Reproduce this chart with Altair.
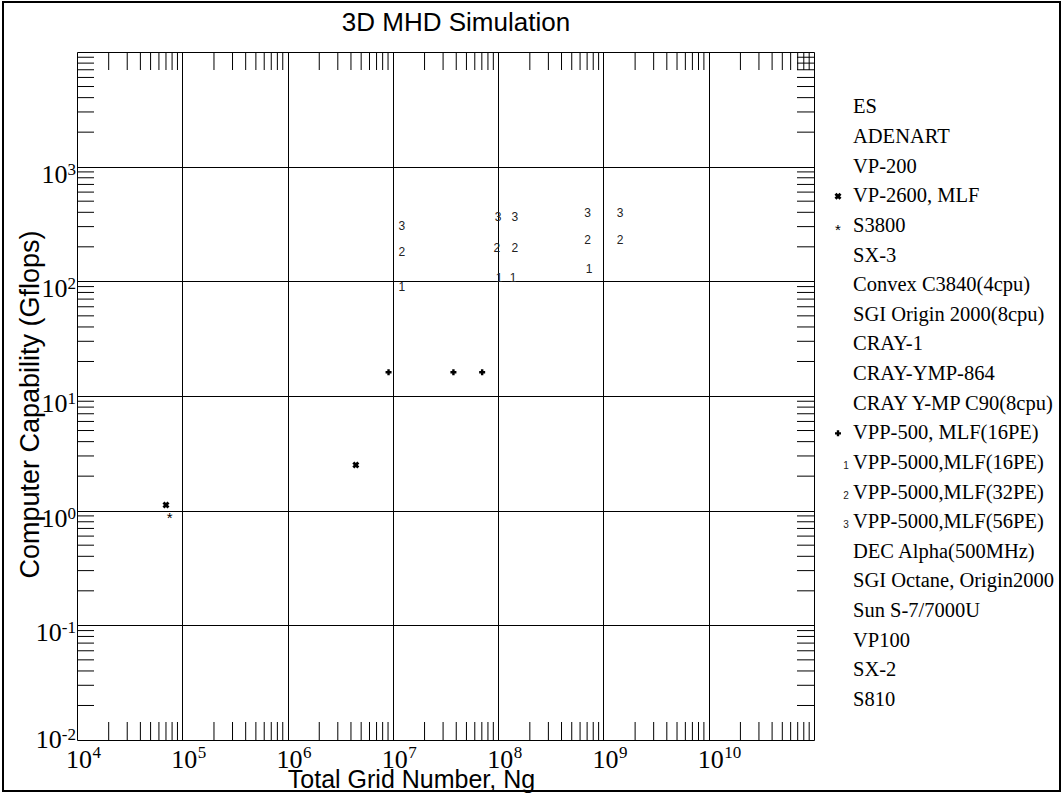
import altair as alt
import pandas as pd

# ---------------- data ----------------
vp2600_ng = [7.0e4, 4.45e6]
vp2600_gf = [1.12, 2.5]

s3800_ng = [7.6e4]
s3800_gf = [0.92]

vpp500_ng = [9.1e6, 3.76e7, 7.05e7]
vpp500_gf = [16.1, 16.1, 16.1]

vpp5000_16_ng = [1.22e7, 1.02e8, 1.39e8, 7.3e8]
vpp5000_16_gf = [88.7, 108, 108, 128]

vpp5000_32_ng = [1.22e7, 9.7e7, 1.44e8, 7.07e8, 1.44e9]
vpp5000_32_gf = [179, 195, 195, 229, 229]

vpp5000_56_ng = [1.22e7, 1.0e8, 1.44e8, 7.07e8, 1.44e9]
vpp5000_56_gf = [305, 361, 361, 393, 393]

legend_labels = [
    "ES", "ADENART", "VP-200", "VP-2600, MLF", "S3800", "SX-3",
    "Convex C3840(4cpu)", "SGI Origin 2000(8cpu)", "CRAY-1", "CRAY-YMP-864",
    "CRAY Y-MP C90(8cpu)", "VPP-500, MLF(16PE)", "VPP-5000,MLF(16PE)",
    "VPP-5000,MLF(32PE)", "VPP-5000,MLF(56PE)", "DEC Alpha(500MHz)",
    "SGI Octane, Origin2000", "Sun S-7/7000U", "VP100", "SX-2", "S810",
]
legend_symbols = ["", "", "", "x", "*", "", "", "", "", "", "",
                  "+", "1", "2", "3", "", "", "", "", "", ""]

x_major = [1e4, 1e5, 1e6, 1e7, 1e8, 1e9, 1e10, 1e11]
x_label_vals = [1e4, 1e5, 1e6, 1e7, 1e8, 1e9, 1e10]
x_label_exps = ["4", "5", "6", "7", "8", "9", "10"]
y_major = [1e-2, 1e-1, 1e0, 1e1, 1e2, 1e3, 1e4]
y_label_vals = [1e-2, 1e-1, 1e0, 1e1, 1e2, 1e3]
y_label_exps = ["-2", "-1", "0", "1", "2", "3"]

title_text = "3D MHD Simulation"

# ---------------- layout ----------------
W, H = 737, 688
PAD_L, PAD_T = 77, 52
SERIF = "Liberation Serif"
SANS = "Liberation Sans"

# ---------------- tables ----------------
pts = pd.concat([
    pd.DataFrame({"ng": vp2600_ng, "gf": vp2600_gf, "s": "x", "lab": ""}),
    pd.DataFrame({"ng": s3800_ng, "gf": s3800_gf, "s": "*", "lab": "*"}),
    pd.DataFrame({"ng": vpp500_ng, "gf": vpp500_gf, "s": "+", "lab": ""}),
    pd.DataFrame({"ng": vpp5000_16_ng, "gf": vpp5000_16_gf, "s": "n", "lab": "1"}),
    pd.DataFrame({"ng": vpp5000_32_ng, "gf": vpp5000_32_gf, "s": "n", "lab": "2"}),
    pd.DataFrame({"ng": vpp5000_56_ng, "gf": vpp5000_56_gf, "s": "n", "lab": "3"}),
], ignore_index=True)

minor_x = pd.DataFrame({"ng": [m * 10 ** k for k in range(4, 11) for m in range(2, 10)]})
minor_y = pd.DataFrame({"gf": [m * 10.0 ** k for k in range(-2, 4) for m in range(2, 10)]})

xlab = pd.DataFrame({"ng": x_label_vals, "base": "10", "exp": x_label_exps})
ylab = pd.DataFrame({"gf": y_label_vals, "base": "10", "exp": y_label_exps})

leg = pd.DataFrame({"idx": list(range(len(legend_labels))),
                    "label": legend_labels, "sym": legend_symbols})

xs = alt.Scale(type="log", domain=[1e4, 1e11], nice=False)
ys = alt.Scale(type="log", domain=[1e-2, 1e4], nice=False)

xaxis = alt.Axis(
    values=x_major, grid=True, gridColor="black", gridWidth=1, gridOpacity=1,
    ticks=False, domain=False, labels=False,
    title="Total Grid Number, Ng", titleFont=SANS, titleFontSize=25,
    titleFontWeight="normal", titleColor="black", titleX=334, titleY=47,
    titleBaseline="alphabetic", titleAlign="center",
)
yaxis = alt.Axis(
    values=y_major, grid=True, gridColor="black", gridWidth=1, gridOpacity=1,
    ticks=False, domain=False, labels=False,
    title="Computer Capability (Gflops)", titleFont=SANS, titleFontSize=27,
    titleFontWeight="normal", titleColor="black", titleX=-47, titleY=352,
    titleAngle=270, titleBaseline="middle", titleAlign="center",
)

X = alt.X("ng:Q", scale=xs, axis=xaxis)
Y = alt.Y("gf:Q", scale=ys, axis=yaxis)

base = alt.Chart(pts)

xmarks = base.mark_point(shape="cross", angle=45, filled=True, size=50, color="black",
                         opacity=1).encode(x=X, y=Y).transform_filter("datum.s == 'x'")
plus = base.mark_point(shape="cross", filled=True, size=36, color="black",
                       opacity=1).encode(x=X, y=Y).transform_filter("datum.s == '+'")
star = base.mark_text(font=SANS, fontSize=15, baseline="alphabetic", dy=8.6,
                      color="black").encode(x=X, y=Y, text="lab:N").transform_filter("datum.s == '*'")
nums = base.mark_text(font=SANS, fontSize=12, baseline="middle",
                      color="#222").encode(x=X, y=Y, text="lab:N").transform_filter("datum.s == 'n'")

tick_len = 18
xt_bot = alt.Chart(minor_x).mark_rule(color="black", strokeWidth=1).encode(
    x=X, y=alt.value(H), y2=alt.value(H - tick_len))
xt_top = alt.Chart(minor_x).mark_rule(color="black", strokeWidth=1).encode(
    x=X, y=alt.value(0), y2=alt.value(tick_len))
yt_left = alt.Chart(minor_y).mark_rule(color="black", strokeWidth=1).encode(
    y=Y, x=alt.value(0), x2=alt.value(17))
yt_right = alt.Chart(minor_y).mark_rule(color="black", strokeWidth=1).encode(
    y=Y, x=alt.value(W), x2=alt.value(W - 17))

# ---- tick labels drawn as "10" + raised exponent ----
BASE_FS, EXP_FS = 26, 17
xl_base = alt.Chart(xlab).mark_text(font=SERIF, fontSize=BASE_FS, align="right", baseline="alphabetic",
                                    dx=15, color="black").encode(x=X, y=alt.value(H + 28), text="base:N")
xl_exp = alt.Chart(xlab).mark_text(font=SERIF, fontSize=EXP_FS, align="left", baseline="alphabetic",
                                   dx=15.5, color="black").encode(x=X, y=alt.value(H + 18), text="exp:N")


def ylayers(filt, base_x, base_dy, exp_dy):
    b = alt.Chart(ylab).mark_text(font=SERIF, fontSize=BASE_FS, align="right", baseline="alphabetic",
                                  dy=base_dy, color="black").encode(
        y=Y, x=alt.value(base_x), text="base:N").transform_filter(filt)
    e = alt.Chart(ylab).mark_text(font=SERIF, fontSize=EXP_FS, align="right", baseline="alphabetic",
                                  dy=exp_dy, color="black").encode(
        y=Y, x=alt.value(-1), text="exp:N").transform_filter(filt)
    return [b, e]


ylabel_layers = (ylayers("length(datum.exp) == 1", -9.5, 16, 8)
                 + ylayers("datum.exp == '-1'", -15.2, 16, 8)
                 + ylayers("datum.exp == '-2'", -15.2, 8, 0))

# ---- title as text ----
title = alt.Chart(pd.DataFrame({"t": [title_text]})).mark_text(
    font=SANS, fontSize=26, align="center", baseline="alphabetic", color="black").encode(
    x=alt.value(456 - PAD_L), y=alt.value(31 - PAD_T), text="t:N")

# ---- legend (drawn at the right of the plot) ----
LEG_Y0 = 107.4 - PAD_T
LEG_DY = 29.63
legbase = alt.Chart(leg).transform_calculate(py=f"{LEG_Y0} + {LEG_DY} * datum.idx")
PY = alt.Y("py:Q", scale=None, axis=None)

leg_text = legbase.mark_text(align="left", baseline="middle", font=SERIF,
                             fontSize=20.5, color="black").encode(
    x=alt.value(853 - PAD_L), y=PY, text="label:N")
leg_x = legbase.mark_point(shape="cross", angle=45, filled=True, size=50, color="black",
                           opacity=1).encode(x=alt.value(838 - PAD_L), y=PY).transform_filter("datum.sym == 'x'")
leg_plus = legbase.mark_point(shape="cross", filled=True, size=36, color="black",
                              opacity=1).encode(x=alt.value(838 - PAD_L), y=PY).transform_filter("datum.sym == '+'")
leg_star = legbase.mark_text(font=SANS, fontSize=15, baseline="alphabetic", dy=8.6,
                             color="black").encode(x=alt.value(838 - PAD_L), y=PY, text="sym:N").transform_filter("datum.sym == '*'")
leg_num = legbase.mark_text(font=SANS, fontSize=10, baseline="middle", dy=3,
                            color="#222").encode(x=alt.value(846 - PAD_L), y=PY, text="sym:N").transform_filter(
    "datum.sym == '1' || datum.sym == '2' || datum.sym == '3'")

frame = alt.Chart(pd.DataFrame({"a": [0]})).mark_rect(fill="transparent", stroke="black", strokeWidth=2).encode(
    x=alt.value(3 - PAD_L), x2=alt.value(1060 - PAD_L), y=alt.value(2 - PAD_T), y2=alt.value(791 - PAD_T))

chart = alt.layer(
    xt_bot, xt_top, yt_left, yt_right, xmarks, plus, star, nums,
    xl_base, xl_exp, *ylabel_layers, title,
    leg_text, leg_x, leg_plus, leg_star, leg_num, frame,
).properties(
    width=W, height=H,
    autosize=alt.AutoSizeParams(type="none"),
    padding={"left": PAD_L, "top": PAD_T, "right": 1063 - PAD_L - W, "bottom": 793 - PAD_T - H},
).configure_view(stroke="black", strokeWidth=1.5).configure(background="white")

chart.save("out.html", embed_options={"renderer": "svg", "actions": False})
